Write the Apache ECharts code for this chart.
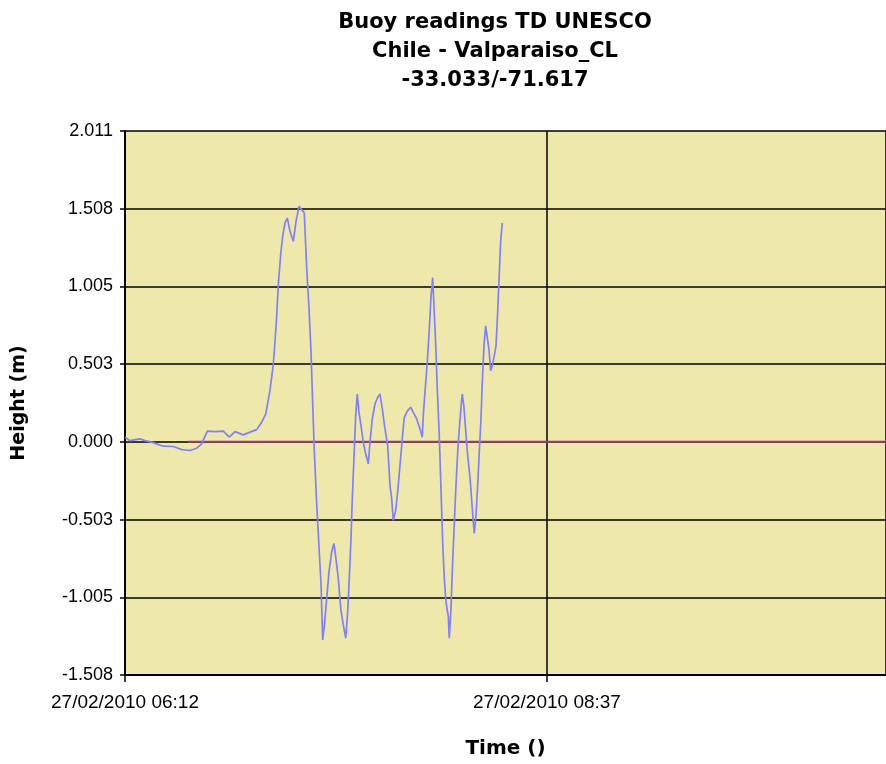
<!DOCTYPE html>
<html>
<head>
<meta charset="utf-8">
<script src="https://cdn.jsdelivr.net/npm/echarts@6/dist/echarts.min.js"></script>
<style>
html,body{margin:0;padding:0;background:#fff;}
#chart{width:886px;height:764px;}
</style>
</head>
<body>
<div id="chart"></div>
<script>
// Minutes after 27/02/2010 06:12
const timeMinutes = [0,1.72,5.15,6.87,9.17,10.89,13.16,16.6,19.48,22.33,24.64,26.35,28.28,30.92,33.78,35.84,37.8,40.65,42.95,45.25,46.97,48.35,49.82,50.96,51.54,52.13,52.68,53.5,54.19,54.98,55.77,56.7,57.83,58.76,59.79,60.72,61.61,62.43,63.22,63.91,64.5,65.04,65.87,66.66,67.35,67.93,68.48,69.31,70.1,71.02,71.81,72.4,73.29,74.12,75.01,75.84,76.52,77.07,77.66,78.1,78.69,79.27,79.82,80.4,81.09,81.88,82.71,83.6,84.18,84.97,85.9,86.83,87.62,88.41,89.34,90.26,91.06,91.64,92.19,93.01,93.7,94.49,95.28,95.97,97.14,98.17,99.06,100.23,101.36,102.15,102.57,103.08,103.87,104.56,105.14,105.73,106.17,106.76,107.31,108.0,108.58,109.16,109.71,110.3,111.09,111.43,112.02,112.46,113.05,113.73,114.32,114.87,115.45,115.9,116.48,117.07,117.75,118.54,119.13,119.68,120.02,120.61,121.19,121.74,122.32,122.77,123.35,123.94,124.49,125.07,125.66,126.34,126.89,127.48,127.92,128.51,129.09,129.64];
const heightMeters = [0.030,0.008,0.019,0.008,-0.002,-0.013,-0.028,-0.030,-0.050,-0.056,-0.041,-0.013,0.069,0.066,0.069,0.030,0.066,0.045,0.063,0.079,0.127,0.180,0.331,0.503,0.645,0.814,1.018,1.212,1.330,1.416,1.448,1.362,1.297,1.426,1.523,1.502,1.481,1.126,0.868,0.588,0.245,-0.056,-0.400,-0.679,-0.915,-1.281,-1.194,-1.012,-0.840,-0.711,-0.657,-0.743,-0.883,-1.076,-1.184,-1.270,-1.098,-0.883,-0.625,-0.367,-0.099,0.170,0.309,0.191,0.105,-0.002,-0.077,-0.142,-0.002,0.148,0.245,0.288,0.309,0.213,0.084,-0.024,-0.282,-0.367,-0.507,-0.443,-0.324,-0.153,0.019,0.159,0.202,0.224,0.191,0.148,0.084,0.030,0.193,0.320,0.514,0.728,0.933,1.062,0.879,0.632,0.342,0.041,-0.303,-0.646,-0.883,-1.033,-1.130,-1.270,-1.076,-0.840,-0.572,-0.282,-0.066,0.084,0.224,0.309,0.224,0.073,-0.088,-0.228,-0.378,-0.518,-0.593,-0.475,-0.282,-0.066,0.148,0.385,0.621,0.750,0.675,0.599,0.460,0.503,0.556,0.621,0.782,1.040,1.297,1.416];
// Reference (zero) line
const refTimes = [21.6, 261.5];
const refValues = [0, 0];
const yTickLabels = ['-1.508','-1.005','-0.503','0.000','0.503','1.005','1.508','2.011'];
const xTickLabels = ['27/02/2010 06:12','27/02/2010 08:37'];
const titleLines = ['Buoy readings TD UNESCO','Chile - Valparaiso_CL','-33.033/-71.617'];

const yStep = 0.5027;
const xStep = 145;
const xMax = 261.5;

const chart = echarts.init(document.getElementById('chart'), null, {renderer:'canvas'});
const labelFont = "'Liberation Sans', Arial, sans-serif";
const boldFont = "'DejaVu Sans', Verdana, sans-serif";
chart.setOption({
  animation: false,
  backgroundColor: '#ffffff',
  title: {
    text: titleLines.join('\n'),
    left: 490, top: 3, textAlign: 'center',
    textStyle: {fontFamily: boldFont, fontWeight: 'bold', fontSize: 21, lineHeight: 29, color: '#000'}
  },
  grid: {left: 125, right: 0, top: 131, bottom: 86, show: true, backgroundColor: '#EEE8AA', borderWidth: 0},
  xAxis: {
    type: 'value', min: 0, max: xMax, interval: xStep,
    name: 'Time ()', nameLocation: 'middle', nameGap: 64,
    nameTextStyle: {fontFamily: boldFont, fontWeight: 'bold', fontSize: 20, color: '#000'},
    axisLine: {show: true, onZero: false, lineStyle: {color: '#000', width: 2}},
    axisTick: {show: true, length: 7, lineStyle: {color: '#000', width: 1.5}},
    axisLabel: {showMaxLabel: false, margin: 18, color: '#000', fontFamily: labelFont, fontSize: 19,
      formatter: v => xTickLabels[Math.round(v / xStep)] || ''},
    splitLine: {show: true, lineStyle: {color: '#000', width: 1.5}}
  },
  yAxis: {
    type: 'value', min: -3 * yStep, max: 4 * yStep, interval: yStep,
    name: 'Height (m)', nameLocation: 'middle', nameGap: 96, nameRotate: 90,
    nameTextStyle: {fontFamily: boldFont, fontWeight: 'bold', fontSize: 19, color: '#000'},
    axisLine: {show: true, onZero: false, lineStyle: {color: '#000', width: 2}},
    axisTick: {show: true, length: 5, lineStyle: {color: '#000', width: 1.5}},
    axisLabel: {margin: 12, color: '#000', fontFamily: labelFont, fontSize: 18,
      formatter: v => yTickLabels[Math.round(v / yStep) + 3] || ''},
    splitLine: {show: true, lineStyle: {color: '#000', width: 1.5}}
  },
  series: [
    {
      type: 'line', name: 'ref', symbol: 'none', silent: true,
      data: refTimes.map((t, i) => [t, refValues[i]]),
      lineStyle: {color: '#9b3f6b', width: 2}, z: 3
    },
    {
      type: 'line', name: 'Height', symbol: 'none', silent: true,
      data: timeMinutes.map((t, i) => [t, heightMeters[i]]),
      lineStyle: {color: '#8080ff', width: 1.7}, z: 4
    }
  ]
});
</script>
</body>
</html>
